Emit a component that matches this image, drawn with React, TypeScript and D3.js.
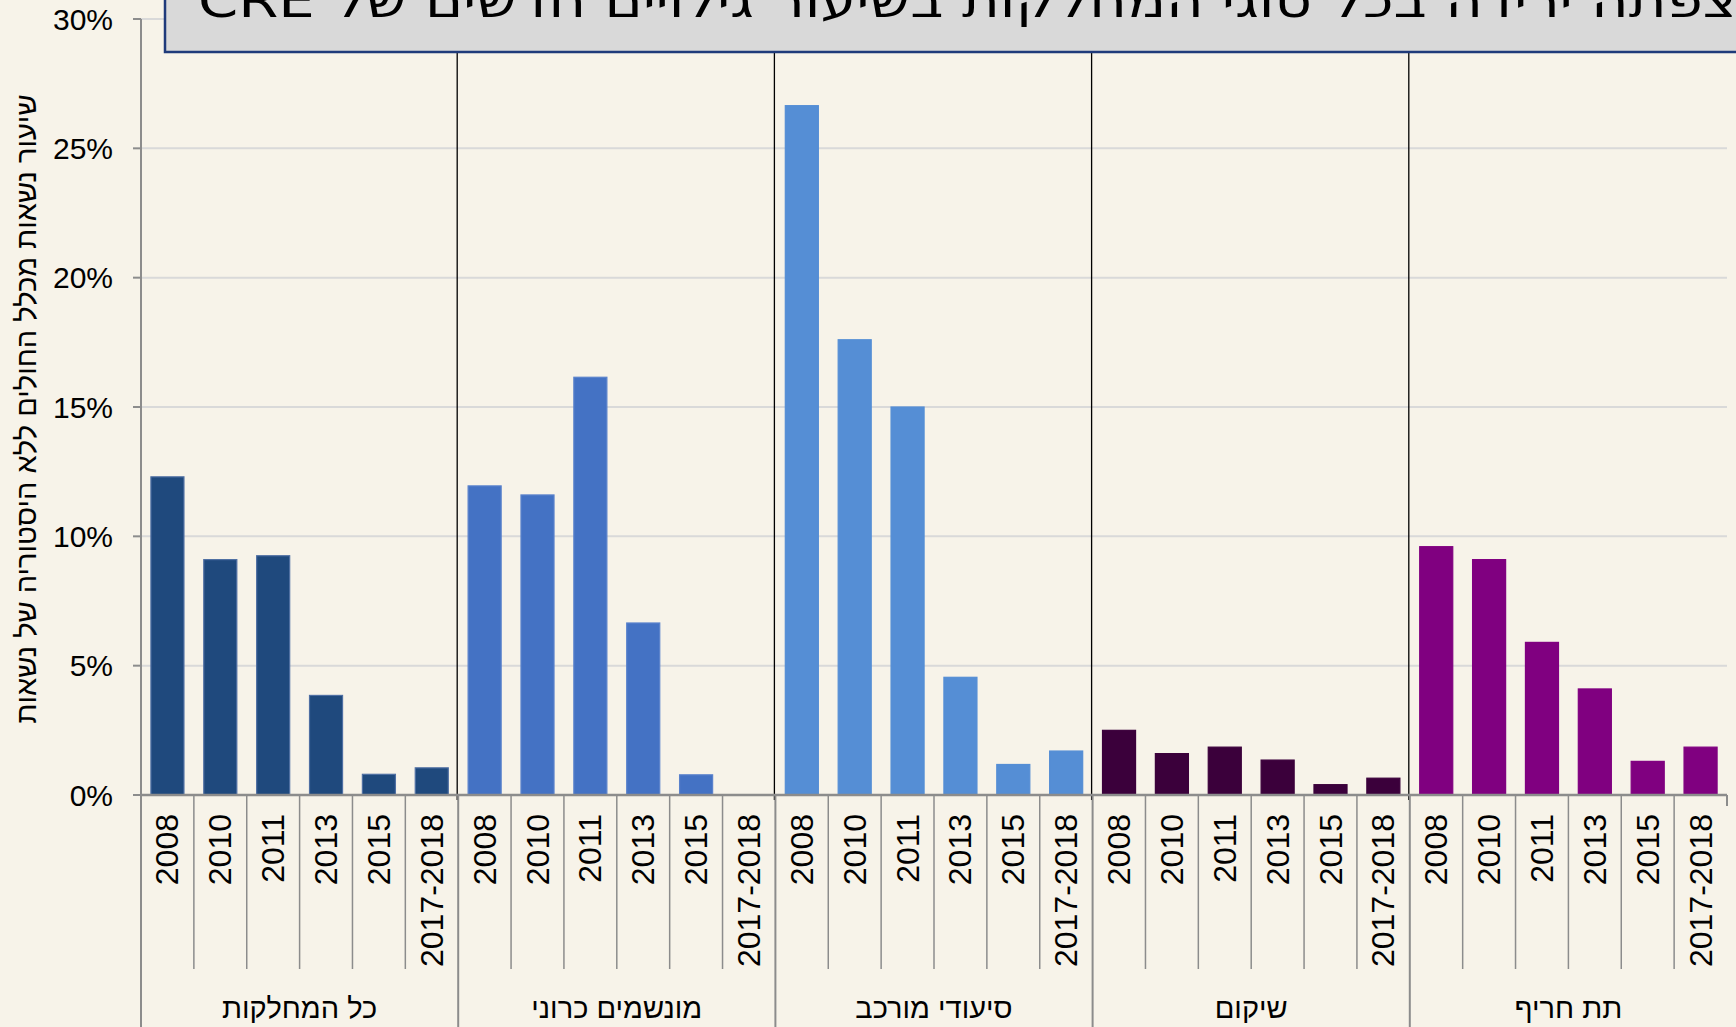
import React from 'react';
import * as d3 from 'd3';

const groups = ['כל המחלקות', 'מונשמים כרוני', 'סיעודי מורכב', 'שיקום', 'תת חריף'];
const years = ['2008', '2010', '2011', '2013', '2015', '2017-2018'];

// percent of patients with no carrier history
const allDepts = [12.3, 9.1, 9.25, 3.85, 0.8, 1.05];
const chronicVent = [11.95, 11.6, 16.15, 6.65, 0.78, null];
const complexNursing = [26.65, 17.6, 15.0, 4.55, 1.18, 1.7];
const rehab = [2.5, 1.6, 1.85, 1.35, 0.4, 0.65];
const subAcute = [9.6, 9.1, 5.9, 4.1, 1.3, 1.85];

const seriesValues = [allDepts, chronicVent, complexNursing, rehab, subAcute];
const fills = ['#1F497D', '#4472C4', '#558ED5', '#3B003B', '#800080'];
const strokes = ['#4F6FA3', '#5A82CC', '#558ED5', '#3B003B', '#800080'];

const yTicks = [0, 5, 10, 15, 20, 25, 30];
const yTitle = 'שיעור נשאות מכלל החולים ללא היסטוריה של נשאות';
const chartTitle = 'נצפתה ירידה בכל סוגי המחלקות בשיעור גילויים חדשים של CRE';

const W = 1736;
const H = 1027;
const left = 141;
const right = 1727;
const top = 19;
const base = 795;

export default function App() {
  const x = d3.scaleBand<string>().domain(groups).range([left, right]).padding(0);
  const xi = d3.scaleBand<string>()
    .domain(years)
    .range([0, x.bandwidth()])
    .paddingInner(0.375)
    .paddingOuter(0.1875);
  const y = d3.scaleLinear().domain([0, 30]).range([base, top]);
  const step = x.bandwidth() / years.length;

  const font = '"Liberation Sans", Arial, sans-serif';

  const bars: any[] = [];
  groups.forEach((g, gi) => {
    seriesValues[gi].forEach((v, i) => {
      if (v == null) return;
      bars.push({ g, gi, year: years[i], v });
    });
  });

  return (
    <div style={{ position: 'absolute', left: 0, top: 0 }}>
      <svg width={W} height={H} style={{ display: 'block', background: '#F7F3E9' }}>
        {/* gridlines */}
        {yTicks.filter((t) => t > 0).map((t) => (
          <line key={'g' + t} x1={left} x2={right} y1={y(t)} y2={y(t)} stroke="#D9D9D9" strokeWidth={2} />
        ))}

        {/* bars */}
        {bars.map((b, i) => (
          <rect
            key={i}
            x={(x(b.g) as number) + (xi(b.year) as number)}
            y={y(b.v)}
            width={xi.bandwidth()}
            height={base - y(b.v)}
            fill={fills[b.gi]}
            stroke={strokes[b.gi]}
            strokeWidth={1.2}
          />
        ))}

        {/* group separators inside plot */}
        {groups.slice(1).map((g) => (
          <line key={'s' + g} x1={(x(g) as number) - 1} x2={(x(g) as number) - 1} y1={52} y2={800} stroke="#000" strokeWidth={1.3} />
        ))}

        {/* y axis */}
        <line x1={left} x2={left} y1={top} y2={H} stroke="#8C8C8C" strokeWidth={2} />
        {yTicks.map((t) => (
          <g key={'t' + t}>
            <line x1={left - 8} x2={left} y1={y(t)} y2={y(t)} stroke="#8C8C8C" strokeWidth={2} />
            <text x={113} y={y(t)} textAnchor="end" dominantBaseline="central" fontFamily={font} fontSize={30} fill="#000">
              {t + '%'}
            </text>
          </g>
        ))}
        <text
          transform={`translate(26, 409) rotate(-90)`}
          textAnchor="middle"
          dominantBaseline="central"
          fontFamily={font}
          fontSize={29}
          direction="rtl"
          fill="#000"
        >
          {yTitle}
        </text>

        {/* x axis */}
        <line x1={left} x2={right} y1={base} y2={base} stroke="#8C8C8C" strokeWidth={2.5} />
        {groups.map((g, gi) =>
          years.map((yr, i) => {
            const cx = (x(g) as number) + step * i;
            const isGroup = i === 0;
            return (
              <line
                key={g + yr + 'tk'}
                x1={cx}
                x2={cx}
                y1={base}
                y2={isGroup ? H : 969}
                stroke="#8C8C8C"
                strokeWidth={isGroup ? 2 : 1.5}
              />
            );
          })
        )}
        <line x1={right} x2={right} y1={base} y2={806} stroke="#8C8C8C" strokeWidth={2} />

        {/* year labels */}
        {groups.map((g) =>
          years.map((yr, i) => {
            const cx = (x(g) as number) + step * (i + 0.5);
            return (
              <text
                key={g + yr}
                transform={`translate(${cx}, 814) rotate(-90)`}
                textAnchor="end"
                dominantBaseline="central"
                fontFamily={font}
                fontSize={32}
                fill="#000"
              >
                {yr}
              </text>
            );
          })
        )}

        {/* group labels */}
        {groups.map((g) => (
          <text
            key={'l' + g}
            x={(x(g) as number) + x.bandwidth() / 2}
            y={1018}
            textAnchor="middle"
            direction="rtl"
            fontFamily={font}
            fontSize={29}
            fill="#000"
          >
            {g}
          </text>
        ))}

        {/* title box */}
        <rect x={165} y={-10} width={1600} height={62} fill="#D9D9D9" stroke="#1F3A7A" strokeWidth={2.5} />
        <text
          x={198}
          y={17}
          textAnchor="end"
          direction="rtl"
          fontFamily='"DejaVu Sans Condensed", "DejaVu Sans", sans-serif'
          fontSize={46}
          textLength={1562}
          lengthAdjust="spacingAndGlyphs"
          fill="#000"
        >
          {chartTitle}
        </text>
      </svg>
    </div>
  );
}
